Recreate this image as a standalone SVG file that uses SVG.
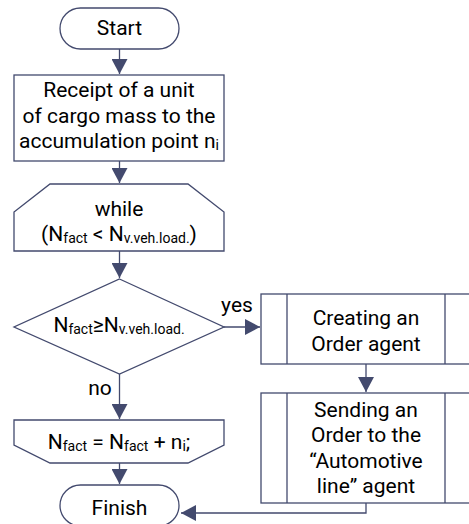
<svg xmlns="http://www.w3.org/2000/svg" width="469" height="524" viewBox="0 0 469 524">
<defs>
<style>
.s{fill:#fff;stroke:#434a6e;stroke-width:1.3}
.c{fill:none;stroke:#434a6e;stroke-width:1.3}
text{font-family:Roboto,"Liberation Sans",sans-serif;font-size:21px;fill:#000;text-anchor:middle}
.sub{font-size:14px}
</style>
<marker id="ah" markerWidth="17" markerHeight="16" refX="15" refY="8" orient="auto" markerUnits="userSpaceOnUse">
<path d="M0,0 L15,8 L0,16 Z" fill="#434a6e"/>
</marker>
</defs>
<rect width="469" height="524" fill="#fff"/>
<g id="connectors">
<line class="c" x1="119.5" y1="49" x2="119.5" y2="74" marker-end="url(#ah)"/>
<line class="c" x1="119.5" y1="161" x2="119.5" y2="183" marker-end="url(#ah)"/>
<line class="c" x1="119.5" y1="251" x2="119.5" y2="278" marker-end="url(#ah)"/>
<line class="c" x1="224" y1="327" x2="260" y2="327" marker-end="url(#ah)"/>
<line class="c" x1="119.5" y1="373" x2="119.5" y2="419" marker-end="url(#ah)"/>
<line class="c" x1="366" y1="364" x2="366" y2="392" marker-end="url(#ah)"/>
<line class="c" x1="119.5" y1="463" x2="119.5" y2="484" marker-end="url(#ah)"/>
<polyline class="c" points="366,503 366,513 181,513" marker-end="url(#ah)"/>
<text x="237" y="312">yes</text>
<text x="100" y="395">no</text>
</g>
<g id="start">
<rect class="s" x="60" y="8" width="119" height="41" rx="20.5"/>
<text x="119.5" y="35">Start</text>
</g>
<g id="receipt">
<rect class="s" x="14" y="75" width="210" height="86"/>
<text x="119" y="97">Receipt of a unit</text>
<text x="119" y="123">of cargo mass to the</text>
<text x="119" y="148">accumulation point n<tspan class="sub" dy="2">i</tspan></text>
</g>
<g id="while">
<polygon class="s" points="50,184 188,184 224,212 224,251 14,251 14,212"/>
<text x="119" y="216">while</text>
<text x="119" y="241">(N<tspan class="sub" dy="2">fact</tspan><tspan dy="-2"> &lt; N</tspan><tspan class="sub" dy="2">v.veh.load.</tspan><tspan dy="-2">)</tspan></text>
</g>
<g id="decision">
<polygon class="s" points="119.5,279 224,327 119.5,374 14,327"/>
<text x="119" y="332">N<tspan class="sub" dy="2">fact</tspan><tspan dy="-2">≥N</tspan><tspan class="sub" dy="2">v.veh.load.</tspan></text>
</g>
<g id="creating">
<rect class="s" x="261" y="294" width="210" height="70"/>
<line class="c" x1="287" y1="294" x2="287" y2="364"/>
<line class="c" x1="445" y1="294" x2="445" y2="364"/>
<text x="366" y="325">Creating an</text>
<text x="366" y="351">Order agent</text>
</g>
<g id="sending">
<rect class="s" x="261" y="393" width="210" height="110"/>
<line class="c" x1="287" y1="393" x2="287" y2="503"/>
<line class="c" x1="445" y1="393" x2="445" y2="503"/>
<text x="366" y="417">Sending an</text>
<text x="366" y="442">Order to the</text>
<text x="366" y="468">“Automotive</text>
<text x="366" y="493">line” agent</text>
</g>
<g id="update">
<polygon class="s" points="14,420 224,420 224,445 188,463 50,463 14,445"/>
<text x="119" y="449">N<tspan class="sub" dy="2">fact</tspan><tspan dy="-2"> = N</tspan><tspan class="sub" dy="2">fact</tspan><tspan dy="-2"> + n</tspan><tspan class="sub" dy="2">i</tspan><tspan dy="-2">;</tspan></text>
</g>
<g id="finish">
<rect class="s" x="60" y="485" width="119" height="41" rx="20.5"/>
<text x="119.5" y="515">Finish</text>
</g>
</svg>
